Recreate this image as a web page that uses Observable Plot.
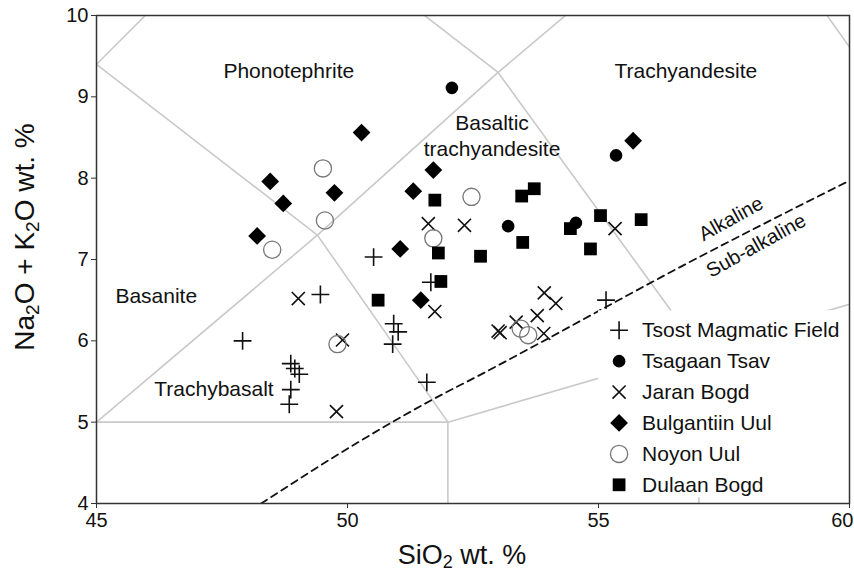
<!DOCTYPE html>
<html><head><meta charset="utf-8">
<script src="https://cdn.jsdelivr.net/npm/d3@7"></script>
<script src="https://cdn.jsdelivr.net/npm/@observablehq/plot@0.6"></script>
<style>
body{margin:0;background:#fff;}
#chart{width:854px;height:574px;}
</style>
</head><body><div id="chart"></div>
<script>
// ---------- data (SiO2 wt.% , Na2O+K2O wt.%) ----------
const seriesNames = ["Tsost Magmatic Field","Tsagaan Tsav","Jaran Bogd","Bulgantiin Uul","Noyon Uul","Dulaan Bogd"];

const tsostSiO2 = [47.91,49.46,50.52,51.66,50.92,51.01,50.90,51.58,48.87,48.95,49.04,48.87,48.84,55.15];
const tsostAlk  = [6.00,6.57,7.03,6.72,6.21,6.11,5.96,5.49,5.72,5.66,5.59,5.40,5.22,6.50];

const tsagaanSiO2 = [52.08,55.35,53.20,54.55];
const tsagaanAlk  = [9.11,8.28,7.41,7.45];

const jaranSiO2 = [49.02,49.90,49.78,51.74,51.61,52.33,55.33,53.00,53.04,53.36,53.92,54.15,53.78,53.91];
const jaranAlk  = [6.52,6.01,5.13,6.36,7.44,7.42,7.38,6.12,6.10,6.23,6.59,6.46,6.31,6.09];

const bulgSiO2 = [50.28,48.46,48.72,49.74,48.20,51.71,51.31,51.05,55.69,51.46];
const bulgAlk  = [8.56,7.96,7.69,7.82,7.29,8.10,7.84,7.13,8.46,6.50];

const noyonSiO2 = [49.51,49.55,48.50,51.71,52.47,49.80,53.45,53.60];
const noyonAlk  = [8.12,7.48,7.12,7.26,7.77,5.96,6.15,6.07];

const dulaanSiO2 = [51.74,51.81,53.47,53.72,55.04,55.85,54.44,53.49,54.84,52.65,51.86,50.61];
const dulaanAlk  = [7.73,7.08,7.78,7.87,7.54,7.49,7.38,7.21,7.13,7.04,6.73,6.50];

// TAS field boundaries (Le Bas et al. 1986), polylines of [SiO2, alkali]
const boundaryA = [[45,9.4],[49.4,7.3],[52,5],[52,0]];
const boundaryB = [[45,5],[49.4,7.3],[53,9.3],[57.6,11.7]];
const boundaryC = [[45,9.4],[48.4,11.5]];
const boundaryD = [[48.4,11.5],[53,9.3],[57,5.9],[57,0]];
const boundaryE = [[45,5],[52,5],[57,5.9],[63,7],[57.6,11.7]];

// Alkaline / sub-alkaline divide
const divideSiO2 = [48.28,50.07,51.70,52.73,53.79,55.31,56.24,60.0];
const divideAlk  = [4.00,4.70,5.28,5.61,5.96,6.47,6.78,7.97];

const xTicks = [45,50,55,60];
const yTicks = [4,5,6,7,8,9,10];

// field labels: text, SiO2, alkali
const fieldLabels = [
  {t:"Phonotephrite", x:48.83, y:9.32},
  {t:"Trachyandesite", x:56.74, y:9.32},
  {t:"Basaltic", x:52.88, y:8.67},
  {t:"trachyandesite", x:52.88, y:8.35},
  {t:"Basanite", x:46.19, y:6.55},
  {t:"Trachybasalt", x:47.34, y:5.40}
];
const divideLabels = [
  {t:"Alkaline", x:57.64, y:7.50},
  {t:"Sub-alkaline", x:58.14, y:7.17}
];

// ---------- styles ----------
const styles = [
  {symbol:"plus",     r:5.8, fill:"none",  stroke:"#111", strokeWidth:1.6},
  {symbol:"circle",   r:6.3, fill:"#000",  stroke:"none", strokeWidth:0},
  {symbol:"times",    r:6.0, fill:"none",  stroke:"#111", strokeWidth:1.6},
  {symbol:"diamond2", r:8.0, fill:"#000",  stroke:"none", strokeWidth:0},
  {symbol:"circle",   r:8.6, fill:"none",  stroke:"#777", strokeWidth:1.3},
  {symbol:"square",   r:7.2, fill:"#000",  stroke:"none", strokeWidth:0}
];
const seriesX = [tsostSiO2, tsagaanSiO2, jaranSiO2, bulgSiO2, noyonSiO2, dulaanSiO2];
const seriesY = [tsostAlk, tsagaanAlk, jaranAlk, bulgAlk, noyonAlk, dulaanAlk];

const legendX = 55.41, legendTop = 6.13, legendStep = 0.38;

const boundaryMarks = [boundaryA,boundaryB,boundaryC,boundaryD,boundaryE].map(b =>
  Plot.line(b, {x: d => d[0], y: d => d[1], stroke:"#c9c9c9", strokeWidth:1.6, clip:true}));

const dotMarks = seriesX.map((xs, i) => {
  const s = styles[i];
  return Plot.dot(xs, {x: xs, y: seriesY[i], symbol: s.symbol, r: s.r, fill: s.fill, stroke: s.stroke, strokeWidth: s.strokeWidth});
});

const legendDots = seriesNames.map((name, i) => {
  const s = styles[i];
  return Plot.dot([name], {x: () => legendX, y: () => legendTop - i*legendStep, symbol: s.symbol, r: s.r, fill: s.fill, stroke: s.stroke, strokeWidth: s.strokeWidth});
});

const plot = Plot.plot({
  width: 854, height: 574,
  marginLeft: 96, marginRight: 5, marginTop: 15, marginBottom: 71,
  style: {fontFamily: "'Liberation Sans', Arial, sans-serif", color: "#111", background: "#fff"},
  x: {domain: [45, 60]},
  y: {domain: [4, 10]},
  marks: [
    ...boundaryMarks,
    Plot.line(divideSiO2, {x: divideSiO2, y: divideAlk, stroke:"#111", strokeWidth:1.8, strokeDasharray:"7,5", curve:"monotone-x", clip:true}),
    Plot.rect([0], {x1: 55.0, x2: 60, y1: 4.07, y2: 6.37, fill: "#fff"}),
    Plot.text(fieldLabels, {x:"x", y:"y", text:"t", fontSize:21, fill:"#111"}),
    Plot.text(divideLabels, {x:"x", y:"y", text:"t", fontSize:20, fill:"#111", rotate:-29}),
    ...dotMarks,
    ...legendDots,
    Plot.text(seriesNames, {x: () => legendX, y: (d, i) => legendTop - i*legendStep, text: d => d, dx: 23, textAnchor:"start", fontSize:21, fill:"#111"}),
    Plot.frame({stroke:"#333", strokeWidth:1.5}),
    Plot.axisX({ticks: xTicks, tickFormat: "d", tickSize: 5, tickPadding: 4, fontSize: 20, label: null, stroke:"#333"}),
    Plot.axisY({ticks: yTicks, tickFormat: "d", tickSize: 5, tickPadding: 3, fontSize: 20, label: null, stroke:"#333"})
  ]
});
document.getElementById("chart").appendChild(plot);

const svg = d3.select(plot);
// keep the last x tick label inside the picture, as in the reference
svg.selectAll("g[aria-label='x-axis tick label'] text")
  .filter(function() { return this.textContent === "60"; })
  .attr("text-anchor", "end").attr("dx", 4);

// axis titles with subscripts
const xt = svg.append("text").attr("x", 462).attr("y", 564).attr("text-anchor","middle")
  .attr("font-size", 27).attr("fill", "#111");
xt.append("tspan").text("SiO");
xt.append("tspan").attr("font-size", 18).attr("dy", 4).text("2");
xt.append("tspan").attr("dy", -4).text(" wt. %");

const yt = svg.append("text").attr("transform","translate(34,237) rotate(-90)").attr("text-anchor","middle")
  .attr("font-size", 28).attr("fill", "#111");
yt.append("tspan").text("Na");
yt.append("tspan").attr("font-size", 19).attr("dy", 5).text("2");
yt.append("tspan").attr("dy", -5).text("O + K");
yt.append("tspan").attr("font-size", 19).attr("dy", 5).text("2");
yt.append("tspan").attr("dy", -5).text("O wt. %");
</script>
</body></html>
